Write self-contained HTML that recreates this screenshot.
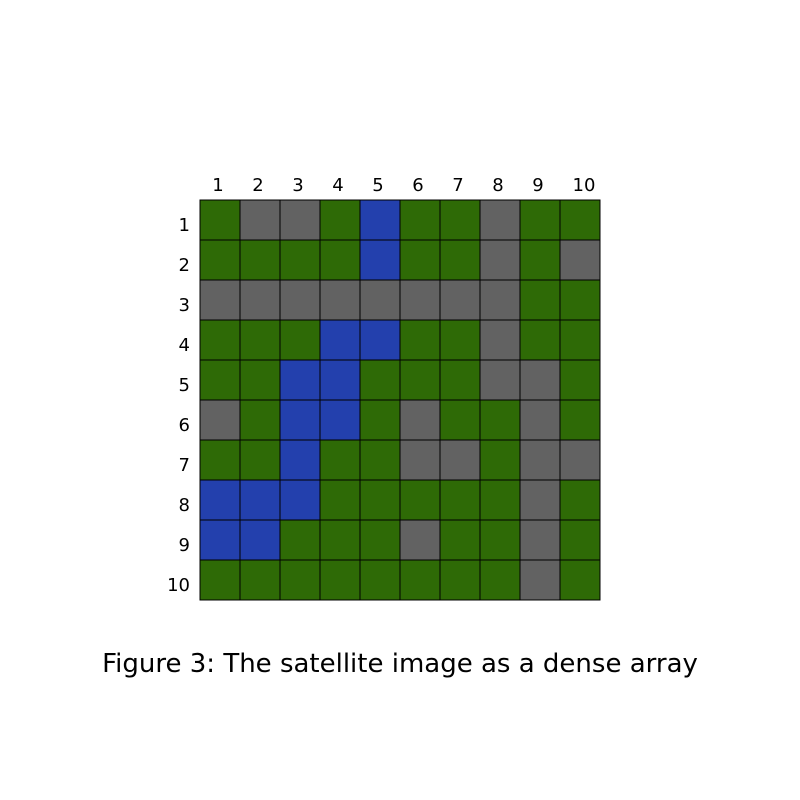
<!DOCTYPE html>
<html><head><meta charset="utf-8"><style>
body{margin:0;background:#fff;}
svg{display:block;}
text{font-family:"DejaVu Sans","Liberation Sans",sans-serif;fill:#000;}
</style></head><body>
<svg width="800" height="800">
<g id="grid"></g>
<g id="collabels"></g>
<g id="rowlabels"></g>
<text x="400" y="672" text-anchor="middle" font-size="26">Figure 3: The satellite image as a dense array</text>
</svg>
<script>
const colLabels = ["1","2","3","4","5","6","7","8","9","10"];
const rowLabels = ["1","2","3","4","5","6","7","8","9","10"];
// G = vegetation, R = rock/gray, B = water
const cells = [
"GRRGBGGRGG",
"GGGGBGGRGR",
"RRRRRRRRGG",
"GGGBBGGRGG",
"GGBBGGGRRG",
"RGBBGRGGRG",
"GGBGGRRGRR",
"BBBGGGGGRG",
"BBGGGRGGRG",
"GGGGGGGGRG"
];
const palette = {G:"#2e6a06", R:"#626262", B:"#2340ad"};
const x0=200, y0=200, cw=40, ch=40;
function xPos(c){return x0+c*cw;}
function yPos(r){return y0+r*ch;}
const ns="http://www.w3.org/2000/svg";
const g=document.getElementById('grid');
cells.forEach((row,r)=>{
  row.split('').forEach((v,c)=>{
    const el=document.createElementNS(ns,'rect');
    el.setAttribute('x',xPos(c));el.setAttribute('y',yPos(r));
    el.setAttribute('width',cw);el.setAttribute('height',ch);
    el.setAttribute('fill',palette[v]);el.setAttribute('stroke','#000');el.setAttribute('stroke-width','1');
    
    
    g.appendChild(el);
  });
});
const cl=document.getElementById('collabels');
colLabels.forEach((t,c)=>{
  const el=document.createElementNS(ns,'text');
  el.setAttribute('x',xPos(c)+cw/2-2+(c==9?6:0));el.setAttribute('y',191);
  el.setAttribute('text-anchor','middle');el.setAttribute('font-size','18');
  el.textContent=t;
  
  
  cl.appendChild(el);
});
const rl=document.getElementById('rowlabels');
rowLabels.forEach((t,r)=>{
  const el=document.createElementNS(ns,'text');
  el.setAttribute('x',190);el.setAttribute('y',yPos(r)+ch/2+11);
  el.setAttribute('text-anchor','end');el.setAttribute('font-size','18');
  el.textContent=t;
  
  
  rl.appendChild(el);
});
</script>
</body></html>
